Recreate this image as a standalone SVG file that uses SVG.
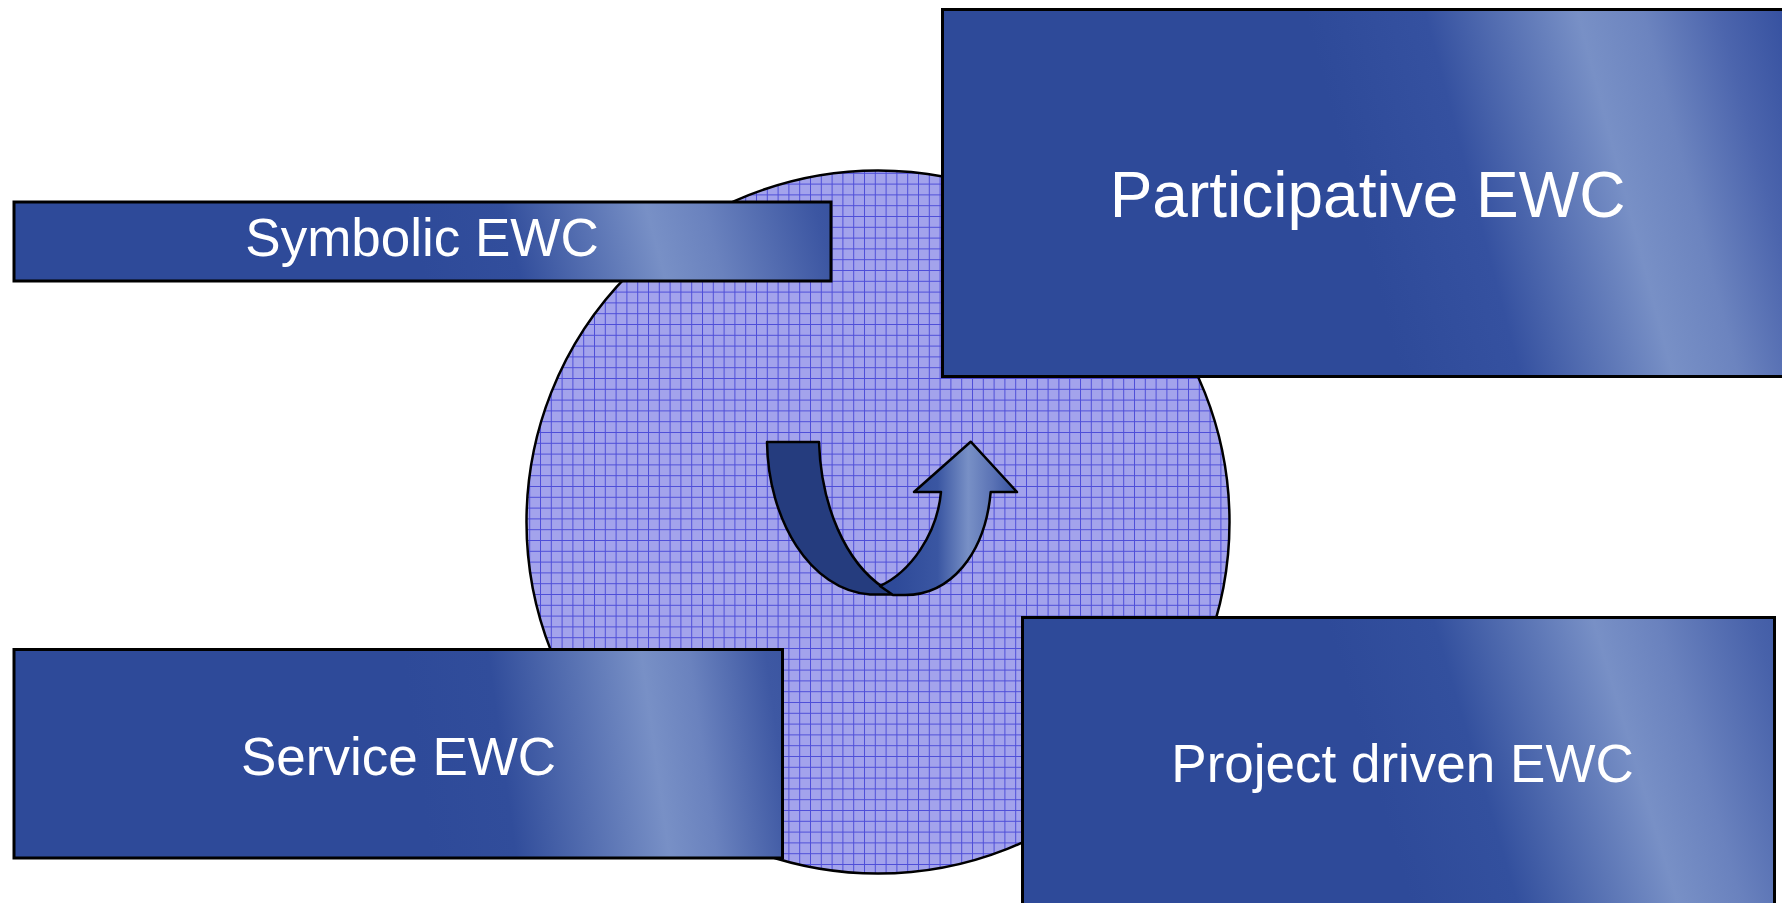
<svg xmlns="http://www.w3.org/2000/svg" width="1782" height="903" viewBox="0 0 1782 903">
  <style>
    .box { stroke: #000; stroke-width: 3; }
    .lbl { fill: #fff; font-family: "Liberation Sans", Arial, sans-serif; text-anchor: middle; }
    .edge { stroke: #000; stroke-width: 2.5; stroke-linejoin: round; }
  </style>
  <defs>
    <pattern id="grid" x="0" y="0" width="10.8" height="10.8" patternUnits="userSpaceOnUse">
      <rect width="10.8" height="10.8" fill="#A3A3EC"/>
      <path d="M0 0.5H10.8M0.5 0V10.8" stroke="#4E4ED8" stroke-width="1"/>
    </pattern>
    <linearGradient id="gSym" gradientUnits="userSpaceOnUse" x1="430" y1="300" x2="880" y2="180">
      <stop offset="0" stop-color="#2E4A99"/>
      <stop offset="0.2" stop-color="#324E9C"/>
      <stop offset="0.5" stop-color="#7890C6"/>
      <stop offset="0.62" stop-color="#6A82BE"/>
      <stop offset="0.85" stop-color="#3C56A2"/>
      <stop offset="1" stop-color="#2E4A99"/>
    </linearGradient>
    <linearGradient id="gPar" gradientUnits="userSpaceOnUse" x1="1370" y1="260" x2="1880" y2="126">
      <stop offset="0" stop-color="#2E4A99"/>
      <stop offset="0.22" stop-color="#3551A0"/>
      <stop offset="0.5" stop-color="#7890C6"/>
      <stop offset="0.62" stop-color="#6C84BF"/>
      <stop offset="0.76" stop-color="#4C65AD"/>
      <stop offset="0.88" stop-color="#3651A0"/>
      <stop offset="1" stop-color="#2E4A99"/>
    </linearGradient>
    <linearGradient id="gSer" gradientUnits="userSpaceOnUse" x1="420" y1="785" x2="890" y2="720">
      <stop offset="0" stop-color="#2E4A99"/>
      <stop offset="0.18" stop-color="#314D9B"/>
      <stop offset="0.5" stop-color="#7890C6"/>
      <stop offset="0.6" stop-color="#6A82BE"/>
      <stop offset="0.76" stop-color="#3E58A3"/>
      <stop offset="1" stop-color="#2E4A99"/>
    </linearGradient>
    <linearGradient id="gPro" gradientUnits="userSpaceOnUse" x1="1390" y1="833" x2="1880" y2="687">
      <stop offset="0" stop-color="#2E4A99"/>
      <stop offset="0.2" stop-color="#33509E"/>
      <stop offset="0.5" stop-color="#7890C6"/>
      <stop offset="0.62" stop-color="#6A82BE"/>
      <stop offset="0.8" stop-color="#4862AA"/>
      <stop offset="1" stop-color="#2E4A99"/>
    </linearGradient>
    <linearGradient id="gArr" gradientUnits="userSpaceOnUse" x1="895" y1="0" x2="1017" y2="0">
      <stop offset="0" stop-color="#2E4A99"/>
      <stop offset="0.35" stop-color="#3A56A2"/>
      <stop offset="0.6" stop-color="#7890C6"/>
      <stop offset="0.8" stop-color="#5B73B5"/>
      <stop offset="1" stop-color="#34509E"/>
    </linearGradient>
  </defs>

  <rect width="1782" height="903" fill="#fff"/>

  <g id="cycle-circle">
    <circle cx="878" cy="522" r="351.5" fill="url(#grid)" stroke="#000" stroke-width="2.5"/>
  </g>

  <g id="arrow">
    <path class="edge" fill="#253C7E" d="M767,442 L819,442 C821,505 845,562 884,588 L893,594.5 L870,594.5 C810,590 768,520 767,442 Z"/>
    <path class="edge" fill="url(#gArr)" d="M880,586 C910,572 937,535 941,492 L914,492 L970.7,441.7 L1017,492 L990.7,492 C985,555 950,595 905,595 L893,595 Z"/>
  </g>

  <g id="node-symbolic">
    <rect class="box" x="14" y="202" width="817" height="79" fill="url(#gSym)"/>
    <text class="lbl" x="422" y="256" font-size="53">Symbolic EWC</text>
  </g>

  <g id="node-participative">
    <rect class="box" x="942.5" y="9.5" width="850" height="367" fill="url(#gPar)"/>
    <text class="lbl" x="1367.5" y="217" font-size="64">Participative EWC</text>
  </g>

  <g id="node-service">
    <rect class="box" x="14" y="649.5" width="768.5" height="208.5" fill="url(#gSer)"/>
    <text class="lbl" x="398.5" y="775" font-size="53">Service EWC</text>
  </g>

  <g id="node-project">
    <rect class="box" x="1022.5" y="617.5" width="752" height="300" fill="url(#gPro)"/>
    <text class="lbl" x="1402.5" y="782" font-size="53">Project driven EWC</text>
  </g>
</svg>
